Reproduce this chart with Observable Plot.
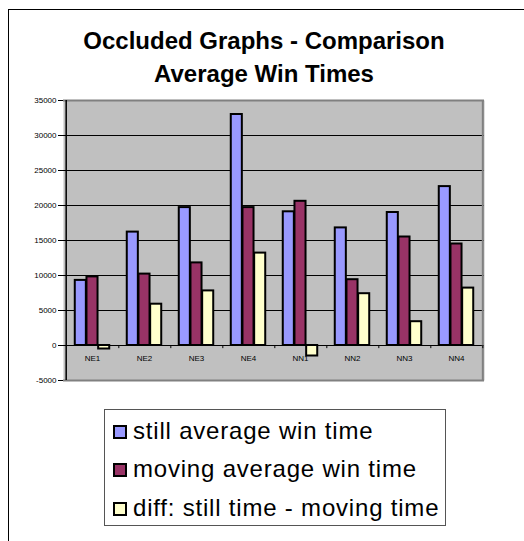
<!DOCTYPE html>
<html><head><meta charset="utf-8">
<script src="https://cdn.jsdelivr.net/npm/d3@7"></script>
<script src="https://cdn.jsdelivr.net/npm/@observablehq/plot@0.6"></script>
<style>
body{margin:0;background:#fff;font-family:"Liberation Sans",Arial,sans-serif;}
#wrap{position:relative;width:524px;height:541px;overflow:hidden;}
#border{position:absolute;left:8px;top:9px;width:600px;height:600px;border-top:1.5px solid #000;border-left:1.5px solid #000;}
#title{position:absolute;left:0;top:24px;width:528px;text-align:center;font-weight:bold;font-size:24px;line-height:33px;color:#000;}
#chart{position:absolute;left:0;top:0;}
#legend{position:absolute;left:104px;top:409px;width:342px;height:117px;box-sizing:border-box;border:1px solid #555;background:#fff;}
.item{position:absolute;left:0;height:38px;font-size:24px;letter-spacing:0.8px;white-space:nowrap;color:#000;}
.sw{position:absolute;left:8px;width:14px;height:14px;box-sizing:border-box;border:2px solid #000;}
.lab{position:absolute;left:28px;line-height:38px;top:0;}
</style></head>
<body>
<div id="wrap">
  <div id="border"></div>
  <div id="title">Occluded Graphs - Comparison<br>Average Win Times</div>
  <div id="chart"></div>
  <div id="legend"></div>
</div>
<script>
const categories = ["NE1","NE2","NE3","NE4","NN1","NN2","NN3","NN4"];
const seriesNames = ["still average win time","moving average win time","diff: still time - moving time"];
const stillTime  = [9300, 16200, 19700, 33000, 19100, 16800, 19000, 22700];
const movingTime = [9800, 10200, 11800, 19700, 20600, 9400, 15500, 14500];
const diffTime   = [-500, 5900, 7800, 13200, -1500, 7400, 3400, 8200];
const seriesColors = ["#9999ff","#993366","#ffffcc"];
const yTicks = [-5000,0,5000,10000,15000,20000,25000,30000,35000];

const values = [stillTime, movingTime, diffTime];
const W = 524, H = 400, mL = 63, mR = 40, mT = 100, mB = 20;
const step = (W - mL - mR) / categories.length;
const barW = step / 4.5;
const inset = (step - barW) / 2;

const bars = values.map((vals, i) => Plot.barY(categories, {
  x: d => d,
  y1: 0,
  y2: (d, j) => vals[j],
  fill: seriesColors[i],
  stroke: "#000",
  strokeWidth: 2,
  insetLeft: inset,
  insetRight: inset,
  dx: (i - 1) * barW
}));

const chart = Plot.plot({
  width: W, height: H,
  marginLeft: mL, marginRight: mR, marginTop: mT, marginBottom: mB,
  style: {fontFamily: "'Liberation Sans', Arial, sans-serif", fontSize: "8px", color: "#000", background: "transparent"},
  x: {type: "band", domain: categories, padding: 0, axis: null},
  y: {domain: [-5000, 35000], axis: null},
  marks: [
    Plot.frame({fill: "#c0c0c0", stroke: null}),
    Plot.ruleY(yTicks.filter(d => d >= 0 && d < 35000), {stroke: "#000", strokeWidth: 1}),
    Plot.ruleY([35000, -5000], {stroke: "#808080", strokeWidth: 2}),
    Plot.ruleX([categories[categories.length - 1]], {x: d => d, dx: step / 2, stroke: "#808080", strokeWidth: 2}),
    Plot.text(categories, {x: d => d, y: 0, dy: 13, fontSize: 8, fill: "#000"}),
    Plot.ruleX(categories, {x: d => d, dx: step / 2, y1: 0, y2: -450, stroke: "#000", strokeWidth: 1}),
    ...bars,
    Plot.ruleX([categories[0]], {x: d => d, dx: -step / 2, stroke: "#000", strokeWidth: 1.5}),
    Plot.axisY({ticks: yTicks, tickSize: 5, tickPadding: 2, tickFormat: d => String(d), label: null, fontSize: 8, stroke: "#000"})
  ]
});
document.getElementById("chart").appendChild(chart);

const legend = document.getElementById("legend");
const baselines = [28, 66.5, 105];
seriesNames.forEach((name, i) => {
  const item = document.createElement("div");
  item.className = "item";
  item.style.top = (baselines[i] - 26.3) + "px";
  const sw = document.createElement("div");
  sw.className = "sw";
  sw.style.background = seriesColors[i];
  sw.style.top = "13px";
  const lab = document.createElement("div");
  lab.className = "lab";
  lab.textContent = name;
  item.appendChild(sw);
  item.appendChild(lab);
  legend.appendChild(item);
});
</script>
</body></html>
